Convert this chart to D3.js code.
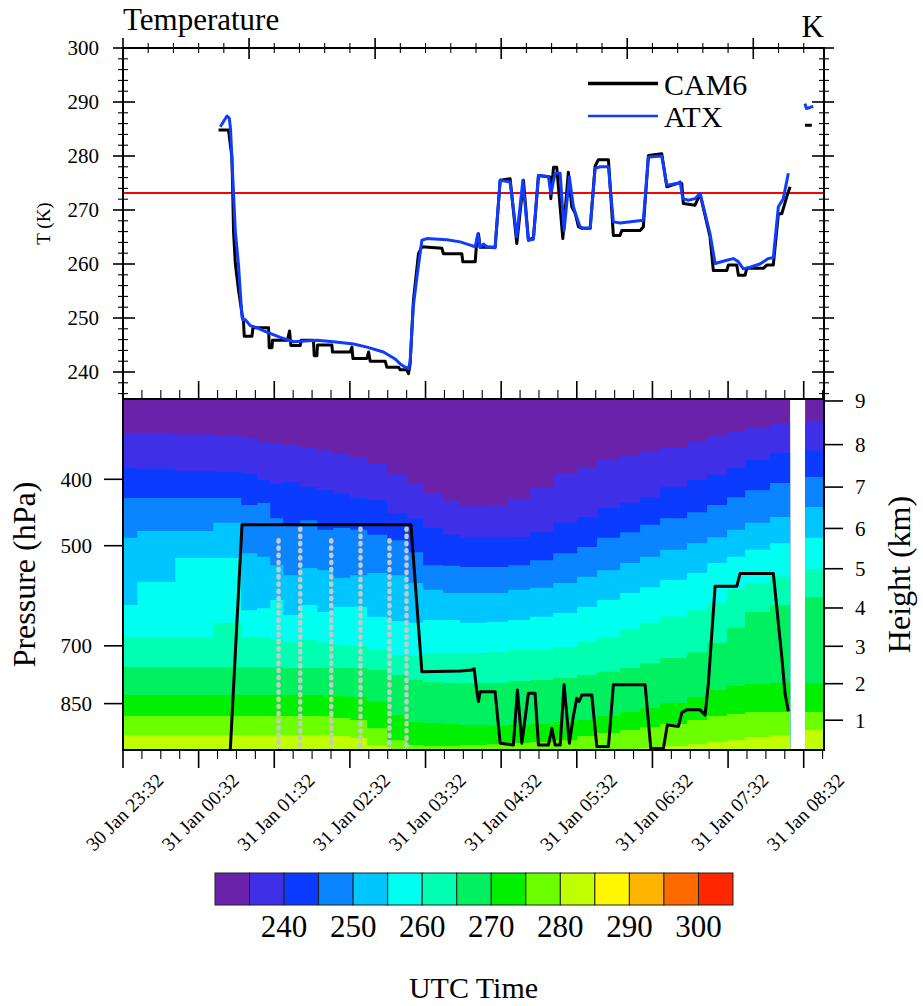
<!DOCTYPE html>
<html>
<head>
<meta charset="utf-8">
<script src="https://cdn.jsdelivr.net/npm/d3@7"></script>
<style>
  body { margin: 0; background: #fff; }
  svg { font-family: "Liberation Serif", "DejaVu Serif", serif; }
</style>
</head>
<body>
<svg id="chart" width="923" height="1006"></svg>
<script>
// Times are minutes after 30 Jan 23:32 UTC
const timeTickLabels = ['30 Jan 23:32', '31 Jan 00:32', '31 Jan 01:32', '31 Jan 02:32', '31 Jan 03:32',
    '31 Jan 04:32', '31 Jan 05:32', '31 Jan 06:32', '31 Jan 07:32', '31 Jan 08:32'];
const tempTicks = [240, 250, 260, 270, 280, 290, 300];
const pressureTicks = [400, 500, 700, 850];
const heightTicks = [1, 2, 3, 4, 5, 6, 7, 8, 9];
const colorLevels = [235, 240, 245, 250, 255, 260, 265, 270, 275, 280, 285, 290, 295, 300];
const colorbarLabels = [240, 250, 260, 270, 280, 290, 300];
const bandColors = ['#6a22ab', '#3f30e8', '#0a3bff', '#0a84ff', '#00c6ff', '#00fff0', '#00ffb0',
    '#00f060', '#00f000', '#6cff00', '#c0ff00', '#fff700', '#ffb400', '#ff6a00', '#ff2600'];
const freezing = 273.15;

// temperature along the flight track
const camTime = [75.8, 83.7, 86.3, 86.9, 87.7, 89.1, 91.7, 94.4, 95.6, 96.2, 102.3, 103.1, 115.5, 116.0, 118.2,
    118.6, 130.5, 132.1, 133.2, 140.6, 141.4, 151.1, 151.7, 153.8, 154.3, 165.7, 166.2, 180.2, 181.6, 182.4,
    193.5, 194.8, 196.1, 208.0, 209.3, 218.5, 219.9, 225.2, 226.5, 227.8, 230.4, 234.4, 237.1, 253.0, 254.2,
    268.8, 269.6, 279.4, 280.7, 282.0, 283.3, 295.2, 299.2, 307.1, 312.4, 317.7, 321.6, 325.6, 329.6, 338.8,
    339.4, 341.5, 344.1, 348.9, 353.3, 356.0, 358.7, 361.3, 364.0, 370.6, 374.5, 377.1, 385.1, 389.0, 394.3,
    395.7, 410.2, 412.8, 416.8, 427.4, 431.4, 439.3, 443.3, 444.5, 453.8, 457.8, 465.7, 468.3, 479.0, 480.2,
    486.9, 488.2, 493.5, 494.8, 508.0, 510.7, 515.9, 519.9, 522.6, 526.5, 529.2, 535.0, 541.0, 546.4];
const camTemp = [284.8, 284.8, 280.0, 275.0, 266.0, 260.1, 255.1, 250.8, 249.3, 246.6, 246.6, 248.2, 248.2, 244.5, 244.5,
    245.9, 245.9, 247.6, 244.9, 244.9, 245.9, 245.9, 243.0, 243.0, 245.0, 245.0, 243.7, 243.7, 244.6, 242.5,
    242.5, 243.7, 242.0, 242.0, 240.9, 240.9, 240.4, 240.4, 239.7, 241.5, 253.3, 261.9, 263.2, 262.9, 261.9,
    261.9, 260.4, 260.4, 264.4, 265.6, 263.1, 263.1, 275.5, 275.8, 263.8, 275.5, 264.4, 264.9, 276.4, 276.1,
    272.1, 277.9, 277.9, 264.7, 277.0, 270.6, 269.4, 266.9, 266.6, 266.6, 278.1, 279.3, 279.3, 265.3, 265.3,
    266.2, 266.2, 266.9, 280.1, 280.4, 274.3, 274.9, 274.9, 271.2, 270.9, 273.0, 265.0, 258.8, 258.8, 259.8,
    259.8, 257.9, 257.9, 259.2, 259.2, 259.8, 259.8, 269.3, 269.3, 272.4, 274.3, null, 285.7, 285.7];

const atxTime = [77.2, 79.5, 82.5, 84.3, 85.3, 86.7, 87.7, 89.1, 91.7, 93.0, 94.4, 95.4, 97.0, 100.9, 104.9,
    114.2, 124.7, 135.3, 153.8, 166.8, 182.9, 193.5, 206.6, 215.9, 219.9, 223.9, 226.5, 227.8, 230.2, 233.1,
    237.1, 241.1, 256.9, 267.5, 275.4, 279.4, 281.5, 283.3, 285.9, 288.6, 295.2, 299.2, 307.1, 312.4, 317.2,
    321.6, 325.6, 329.6, 337.5, 339.4, 342.8, 346.8, 349.9, 354.1, 357.3, 360.0, 362.6, 365.2, 370.6, 374.5,
    378.5, 385.1, 389.0, 394.3, 412.8, 416.8, 427.4, 431.4, 439.3, 442.0, 444.1, 448.5, 453.8, 457.8, 465.7,
    469.7, 479.0, 484.2, 488.2, 492.1, 497.4, 505.3, 511.9, 515.9, 519.9, 523.8, 527.8, 535.0, 541.0, 542.2,
    543.8, 547.6];
const atxTemp = [285.4, 286.3, 287.4, 287.0, 285.0, 278.0, 273.0, 266.0, 259.6, 255.0, 250.2, 249.6, 249.7, 248.6, 248.3,
    247.4, 246.4, 245.6, 245.9, 245.6, 245.2, 244.6, 243.7, 242.4, 241.5, 240.9, 240.6, 242.0, 252.0, 257.5,
    264.4, 264.7, 264.5, 264.1, 263.5, 263.2, 265.6, 263.1, 263.7, 263.2, 263.0, 275.5, 275.2, 265.0, 275.5,
    264.4, 264.6, 276.4, 276.2, 273.0, 276.8, 276.8, 266.2, 276.1, 270.6, 268.6, 266.9, 266.6, 266.6, 277.7,
    278.0, 278.0, 267.8, 267.6, 268.1, 279.8, 280.0, 274.6, 274.9, 275.2, 272.1, 271.8, 272.1, 273.1, 265.6,
    260.1, 260.7, 261.0, 260.4, 259.1, 259.4, 260.0, 261.0, 261.2, 270.6, 272.1, 276.8, null, 289.7, 288.8,
    288.9, 289.2];

// flight pressure level (hPa)
const trackTime = [85.1, 94.4, 228.4, 237.1, 267.5, 276.7, 278.6, 280.7, 282.0, 283.3, 295.2, 299.2, 309.7, 312.9,
    316.4, 321.6, 326.9, 329.6, 337.5, 340.2, 342.8, 346.8, 349.9, 354.1, 357.3, 360.0, 361.8, 364.0, 371.9,
    375.9, 385.1, 389.0, 414.2, 418.7, 428.7, 431.8, 440.6, 443.3, 447.2, 457.8, 461.8, 464.4, 469.7, 486.9,
    489.5, 515.9, 522.6, 525.2, 527.8];
const trackPres = [995, 466, 466, 764, 762, 759, 756, 817, 844, 817, 817, 971, 977, 812,
    971, 821, 821, 977, 977, 924, 977, 977, 798, 971, 886, 835, 844, 826, 826,
    982, 982, 798, 798, 988, 988, 913, 918, 876, 868, 868, 883, 793, 573, 573,
    549, 549, 726, 822, 872];

// dropsonde releases and their top level
const sondeTime = [123.4, 140.6, 165.2, 188.4, 211.4, 224.9];
const sondeTop = [491, 472, 491, 472, 491, 472];

// model temperature field: column edges and isotherm pressures (hPa) per column
const fieldEdges = [0, 11.3, 41.5, 71.6, 93.8, 106.5, 116.8, 127.1, 140.6, 154.1, 166.8, 180.2, 193.7, 209.6,
    225.4, 238.1, 254.0, 267.5, 288.9, 305.6, 323.0, 341.3, 360.3, 376.1, 394.4, 410.2, 426.1, 447.5, 463.4,
    479.2, 493.5, 513.3, 529.2, 541.1, 556.1];
const p235 = [342, 342, 344, 345, 348, 352, 354, 357, 359, 363, 367, 371, 379, 392, 405, 419, 430,
    438, 436, 427, 412, 393, 384, 375, 369, 365, 359, 352, 346, 341, 337, 331, null, 329];
const p240 = [385, 386, 389, 390, 393, 401, 406, 404, 411, 415, 420, 426, 429, 448, 456, 471, 482,
    487, 487, 486, 478, 463, 454, 441, 433, 425, 411, 401, 394, 385, 375, 366, null, 363];
const p245 = [426, 426, 426, 426, 436, 433, 456, 466, 459, 474, 471, 474, 482, 491, 511, 534, 535,
    537, 537, 534, 525, 513, 502, 487, 478, 466, 456, 447, 436, 425, 415, 405, null, 397];
const p250 = [487, 476, 476, 463, 513, 519, 534, 552, 539, 543, 557, 552, 548, 552, 567, 580, 586,
    586, 586, 580, 576, 567, 555, 543, 530, 519, 507, 496, 486, 474, 463, 454, null, 439];
const p255 = [610, 565, 521, 521, 621, 617, 600, 631, 610, 625, 614, 614, 635, 644, 648, 642, 642,
    648, 646, 642, 635, 627, 614, 600, 586, 575, 561, 548, 530, 519, 507, 496, null, 487];
const p260 = [682, 682, 682, 648, 682, 680, 686, 691, 686, 693, 698, 700, 710, 722, 724, 717, 717,
    717, 715, 710, 710, 703, 691, 680, 664, 648, 635, 621, 606, 580, 567, 555, null, 541];
const p265 = [752, 752, 752, 752, 752, 752, 752, 754, 754, 754, 754, 754, 759, 772, 785, 791, 793,
    793, 793, 788, 785, 780, 772, 764, 754, 742, 729, 715, 693, 659, 625, 610, null, 594];
const p270 = [826, 826, 826, 826, 826, 826, 826, 826, 826, 826, 829, 831, 845, 883, 904, 907, 910,
    913, 916, 913, 910, 904, 898, 886, 874, 863, 848, 831, 812, 801, 796, 793, null, 793];
const p275 = [886, 886, 886, 886, 886, 886, 886, 886, 886, 886, 892, 898, 923, 961, 977, 980, 980,
    977, 974, 970, 967, 961, 948, 938, 929, 920, 910, 898, 886, 880, 874, 874, null, 874];
const p280 = [945, 945, 945, 945, 945, 945, 945, 945, 945, 945, 948, 954, 977, 1000, 1027, 1027, 1027,
    1027, 1027, 1027, 1027, 1027, 1020, 1010, 1000, 987, 980, 974, 967, 961, 951, 945, null, 929];

// layout
const left = 123, right = 824;
const top1 = 48, split = 399, bottom2 = 750;

const svg = d3.select('#chart');

const x = d3.scaleLinear().domain([0, 556.1]).range([left, right]);
const yT = d3.scaleLinear().domain([235, 300]).range([split, top1]);
const yP = d3.scaleLog().domain([305.4, 993.4]).range([split, bottom2]);

// standard atmosphere: km -> hPa
const stdPres = km => 1013.25 * Math.pow(1 - 0.0065 * km * 1000 / 288.15, 5.25588);

const defs = svg.append('defs');
defs.append('clipPath').attr('id', 'clipTop')
    .append('rect').attr('x', left).attr('y', top1).attr('width', right - left).attr('height', split - top1);
defs.append('clipPath').attr('id', 'clipBottom')
    .append('rect').attr('x', left).attr('y', split).attr('width', right - left).attr('height', bottom2 - split);

function tickLines(g, vals, x1, x2, y1, y2, w) {
    g.selectAll(null).data(vals).enter().append('line')
        .attr('x1', x1).attr('x2', x2)
        .attr('y1', y1).attr('y2', y2)
        .attr('stroke', '#000')
        .attr('stroke-width', w);
}

const hourMinutes = timeTickLabels.map((d, i) => i * 60);
const quarterMinutes = d3.range(0, 557, 15).filter(m => m % 60 !== 0);

// ---------- lower panel: temperature cross-section ----------
const field = svg.append('g').attr('clip-path', 'url(#clipBottom)');
const topLevel = p235.map(v => v == null ? null : yP.domain()[0]);
const isotherms = [topLevel, p235, p240, p245, p250, p255, p260, p265, p270, p275, p280];

const bandArea = d3.area()
    .defined(d => d != null)
    .x(d => x(d[0]))
    .y0(bottom2)
    .y1(d => yP(d[1]));

isotherms.forEach((arr, k) => {
    const pts = [];
    arr.forEach((p, i) => {
        if (p == null) { pts.push(null); return; }
        pts.push([fieldEdges[i], p], [fieldEdges[i + 1], p]);
    });
    field.append('path').datum(pts)
        .attr('fill', bandColors[k])
        .attr('d', bandArea);
});

// dropsonde profiles
field.selectAll('.sonde')
    .data(sondeTime.map((t, i) => [t, sondeTop[i]]))
    .enter().append('line')
    .attr('x1', d => x(d[0])).attr('x2', d => x(d[0]))
    .attr('y1', d => yP(d[1])).attr('y2', bottom2)
    .attr('stroke', '#c8c8c8')
    .attr('stroke-width', 4.5)
    .attr('stroke-linecap', 'round')
    .attr('stroke-dasharray', '1.2,6');

field.append('path')
    .datum(trackTime.map((t, i) => [t, trackPres[i]]))
    .attr('fill', 'none')
    .attr('stroke', '#000')
    .attr('stroke-width', 3)
    .attr('stroke-linejoin', 'round')
    .attr('d', d3.line().x(d => x(d[0])).y(d => yP(d[1])));

svg.append('rect')
    .attr('x', left).attr('y', split).attr('width', right - left).attr('height', bottom2 - split)
    .attr('fill', 'none').attr('stroke', '#000').attr('stroke-width', 2);

const axes2 = svg.append('g');
tickLines(axes2, pressureTicks, left - 19, left, d => yP(d), d => yP(d), 1.6);
axes2.selectAll('.plab').data(pressureTicks).enter().append('text')
    .attr('x', 92).attr('y', d => yP(d)).attr('dy', '0.35em')
    .attr('text-anchor', 'end').attr('font-size', 21)
    .text(d => d);

tickLines(axes2, heightTicks, right, right + 19, d => yP(stdPres(d)), d => yP(stdPres(d)), 1.6);
axes2.selectAll('.hlab').data(heightTicks).enter().append('text')
    .attr('x', 855).attr('y', d => yP(stdPres(d))).attr('dy', '0.35em')
    .attr('font-size', 21)
    .text(d => d);

tickLines(axes2, hourMinutes, d => x(d), d => x(d), bottom2, bottom2 + 18, 1.6);
tickLines(axes2, quarterMinutes, d => x(d), d => x(d), bottom2, bottom2 + 9, 1.1);

axes2.selectAll('.tlab').data(timeTickLabels).enter().append('text')
    .attr('transform', (d, i) => `translate(${x(hourMinutes[i]) + 1.5},812) rotate(-45)`)
    .attr('text-anchor', 'middle').attr('dy', '0.35em')
    .attr('font-size', 19.5)
    .text(d => d);

svg.append('text')
    .attr('transform', `translate(35,${(split + bottom2) / 2}) rotate(-90)`)
    .attr('text-anchor', 'middle').attr('font-size', 32)
    .text('Pressure (hPa)');
svg.append('text')
    .attr('transform', `translate(910,${(split + bottom2) / 2}) rotate(-90)`)
    .attr('text-anchor', 'middle').attr('font-size', 32)
    .text('Height (km)');

// ---------- upper panel: temperature time series ----------
const series = svg.append('g').attr('clip-path', 'url(#clipTop)');

series.append('line')
    .attr('x1', left).attr('x2', right)
    .attr('y1', yT(freezing)).attr('y2', yT(freezing))
    .attr('stroke', '#ff0000').attr('stroke-width', 2);

const tLine = d3.line()
    .defined(d => d[1] != null)
    .x(d => x(d[0]))
    .y(d => yT(d[1]));

series.append('path')
    .datum(camTime.map((t, i) => [t, camTemp[i]]))
    .attr('fill', 'none').attr('stroke', '#000').attr('stroke-width', 3)
    .attr('stroke-linejoin', 'round')
    .attr('d', tLine);

series.append('path')
    .datum(atxTime.map((t, i) => [t, atxTemp[i]]))
    .attr('fill', 'none').attr('stroke', '#0f3cff').attr('stroke-width', 3)
    .attr('stroke-linejoin', 'round')
    .attr('d', tLine);

svg.append('rect')
    .attr('x', left).attr('y', top1).attr('width', right - left).attr('height', split - top1)
    .attr('fill', 'none').attr('stroke', '#000').attr('stroke-width', 2);

const axes1 = svg.append('g');
const tempMinor = d3.range(236, 301, 2).filter(v => v % 10 !== 0);
tickLines(axes1, tempTicks, left - 10, left + 12, d => yT(d), d => yT(d), 1.6);
tickLines(axes1, tempMinor, left - 5, left + 5, d => yT(d), d => yT(d), 1.1);
tickLines(axes1, tempTicks, right - 12, right + 10, d => yT(d), d => yT(d), 1.6);
tickLines(axes1, tempMinor, right - 5, right + 5, d => yT(d), d => yT(d), 1.1);

const topMajor = d3.range(0, 557, 100);
const topMinor = d3.range(0, 557, 20).filter(m => m % 100 !== 0);
tickLines(axes1, topMajor, d => x(d), d => x(d), top1 - 10, top1 + 11, 1.6);
tickLines(axes1, topMinor, d => x(d), d => x(d), top1 - 5, top1 + 5, 1.1);

tickLines(axes1, hourMinutes, d => x(d), d => x(d), split - 18, split, 1.6);
tickLines(axes1, quarterMinutes, d => x(d), d => x(d), split - 9, split, 1.1);

axes1.selectAll('.ylab').data(tempTicks).enter().append('text')
    .attr('x', 99).attr('y', d => yT(d)).attr('dy', '0.35em')
    .attr('text-anchor', 'end').attr('font-size', 21)
    .text(d => d);

svg.append('text')
    .attr('transform', `translate(50,${(top1 + split) / 2}) rotate(-90)`)
    .attr('text-anchor', 'middle').attr('font-size', 19)
    .text('T (K)');

svg.append('text').attr('x', left).attr('y', 30).attr('font-size', 31).text('Temperature');
svg.append('text').attr('x', right).attr('y', 37).attr('text-anchor', 'end').attr('font-size', 31).text('K');

// legend
const legend = svg.append('g');
const legendItems = [
    { name: 'CAM6', color: '#000', width: 3.5, y: 83.5 },
    { name: 'ATX', color: '#0f3cff', width: 2.5, y: 116 }
];
legendItems.forEach(d => {
    legend.append('line')
        .attr('x1', 588).attr('x2', 658).attr('y1', d.y).attr('y2', d.y)
        .attr('stroke', d.color).attr('stroke-width', d.width);
    legend.append('text')
        .attr('x', 664).attr('y', d.y + 11)
        .attr('font-size', 30)
        .text(d.name);
});

// ---------- colour bar ----------
const cb = d3.scaleLinear().domain([0, bandColors.length]).range([215, 733]);
const colorbar = svg.append('g');
colorbar.selectAll('rect').data(bandColors).enter().append('rect')
    .attr('x', (d, i) => cb(i)).attr('y', 873)
    .attr('width', (d, i) => cb(i + 1) - cb(i)).attr('height', 32)
    .attr('fill', d => d)
    .attr('stroke', '#222').attr('stroke-width', 1);
colorbar.selectAll('text').data(colorbarLabels).enter().append('text')
    .attr('x', d => cb(colorLevels.indexOf(d) + 1))
    .attr('y', 937)
    .attr('text-anchor', 'middle').attr('font-size', 31)
    .text(d => d);

svg.append('text')
    .attr('x', (left + right) / 2).attr('y', 998)
    .attr('text-anchor', 'middle').attr('font-size', 30)
    .text('UTC Time');
</script>
</body>
</html>
